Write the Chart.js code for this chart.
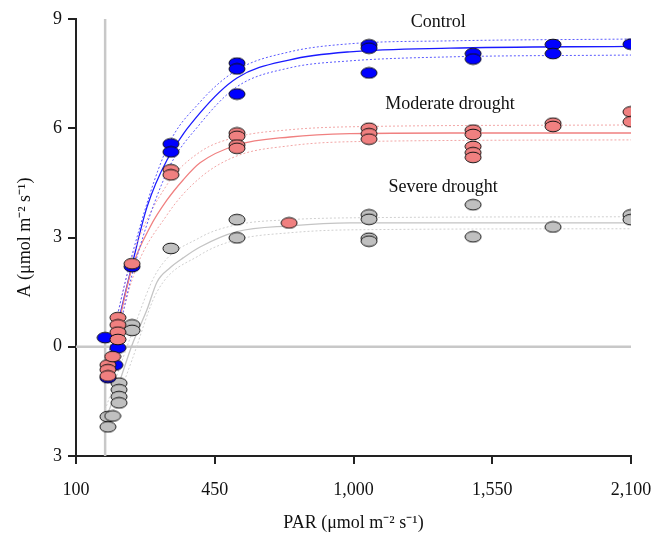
<!DOCTYPE html>
<html>
<head>
<meta charset="utf-8">
<script src="https://cdn.jsdelivr.net/npm/chart.js@4"></script>
<style>
  html, body { margin: 0; padding: 0; background: #fff; }
  #wrap { width: 653px; height: 534px; }
</style>
</head>
<body>
<div id="wrap"><canvas id="chart" width="653" height="534"></canvas></div>
<script>
// PAR axis: linear positions, labels as printed on the figure
const xTickLabels = ['100', '450', '1,000', '1,550', '2,100'];
const yTickLabels = ['3', '0', '3', '6', '9'];

// measured points
const controlX = [205, 215, 240, 251, 302, 442, 442, 680, 680, 680, 1156, 1156, 1156, 1531, 1531, 1819, 1819, 2100];
const controlY = [0.25, -0.85, -0.5, -0.03, 2.2, 5.57, 5.35, 7.79, 7.63, 6.94, 8.29, 8.2, 7.52, 8.05, 7.9, 8.3, 8.05, 8.31];

const moderateX = [215, 215, 215, 232, 251, 251, 251, 251, 302, 442, 442, 680, 680, 680, 680, 868, 1156, 1156, 1156, 1531, 1531, 1531, 1531, 1531, 1819, 1819, 2100, 2100];
const moderateY = [-0.5, -0.63, -0.8, -0.27, 0.8, 0.6, 0.4, 0.2, 2.28, 4.86, 4.72, 5.87, 5.78, 5.54, 5.45, 3.4, 6.0, 5.85, 5.7, 5.95, 5.83, 5.5, 5.33, 5.2, 6.14, 6.05, 6.45, 6.18];

const severeX = [215, 215, 232, 255, 255, 255, 255, 302, 302, 442, 680, 680, 1156, 1156, 1156, 1156, 1531, 1531, 1819, 2100, 2100];
const severeY = [-1.92, -2.2, -1.9, -1.0, -1.18, -1.37, -1.54, 0.6, 0.45, 2.7, 3.49, 2.99, 3.62, 3.5, 2.98, 2.9, 3.9, 3.02, 3.29, 3.62, 3.49];

// fitted curves and their bands
const controlFitX = [205, 230, 302, 356, 428, 547, 680, 871, 1087, 1448, 2100];
const controlFitY = [-0.82, -0.03, 2.25, 3.84, 5.13, 6.42, 7.38, 7.88, 8.1, 8.2, 8.25];
const controlUpX = [205, 302, 428, 547, 680, 871, 1087, 1448, 2100];
const controlUpY = [-0.63, 2.52, 5.46, 6.72, 7.6, 8.1, 8.32, 8.4, 8.45];
const controlLoX = [215, 302, 428, 547, 680, 871, 1087, 1448, 2100];
const controlLoY = [-1.0, 1.98, 4.8, 6.12, 7.14, 7.66, 7.85, 7.96, 8.01];

const moderateFitX = [205, 251, 302, 367, 428, 486, 547, 680, 871, 1087, 1448, 2100];
const moderateFitY = [-0.85, 0.55, 2.17, 3.29, 4.03, 4.58, 5.05, 5.54, 5.76, 5.85, 5.87, 5.87];
const moderateUpX = [205, 302, 428, 547, 680, 871, 1087, 2100];
const moderateUpY = [-0.63, 2.44, 4.45, 5.35, 5.76, 5.96, 6.04, 6.09];
const moderateLoX = [215, 302, 428, 547, 680, 871, 1087, 2100];
const moderateLoY = [-1.0, 1.84, 3.62, 4.64, 5.24, 5.52, 5.63, 5.68];

const severeFitX = [205, 223, 259, 302, 356, 392, 439, 486, 547, 680, 871, 1087, 2100];
const severeFitY = [-2.0, -1.67, -0.91, 0.05, 1.02, 1.78, 2.17, 2.44, 2.74, 3.16, 3.32, 3.4, 3.4];
const severeUpX = [205, 302, 392, 547, 680, 871, 1087, 2100];
const severeUpY = [-1.73, 0.38, 2.06, 3.0, 3.35, 3.49, 3.54, 3.57];
const severeLoX = [230, 302, 392, 547, 680, 871, 1087, 2100];
const severeLoY = [-1.87, -0.36, 1.51, 2.52, 2.94, 3.13, 3.21, 3.24];

// group labels inside the plot
const groupNames = ['Control', 'Moderate drought', 'Severe drought'];
const groupLabelX = [1405, 1448, 1423];
const groupLabelY = [8.92, 6.67, 4.39];

const refLineX = 205;
const refLineY = 0;

const serif = '"Liberation Serif", "Times New Roman", serif';

function pts(xs, ys) {
    return xs.map((x, i) => ({ x: x, y: ys[i] }));
}

// little elliptic marker with a black rim
function makeEllipse(fill) {
    const c = document.createElement('canvas');
    c.width = 18; c.height = 13;
    const g = c.getContext('2d');
    g.beginPath();
    g.ellipse(9, 6.5, 8, 5.3, 0, 0, Math.PI * 2);
    g.fillStyle = fill;
    g.fill();
    g.lineWidth = 1;
    g.strokeStyle = '#111';
    g.stroke();
    return c;
}

function curve(xs, ys, color, dashed) {
    return {
        type: 'line',
        data: pts(xs, ys),
        borderColor: color,
        borderWidth: dashed ? 1 : 1.3,
        borderDash: dashed ? [2, 2] : [],
        pointRadius: 0,
        fill: false,
        cubicInterpolationMode: 'monotone',
        order: 10
    };
}

function dots(xs, ys, fill, order) {
    return {
        type: 'scatter',
        data: pts(xs, ys),
        pointStyle: makeEllipse(fill),
        pointRadius: 8,
        order: order
    };
}

// grey reference lines at PAR origin and A = 0
const refLines = {
    id: 'refLines',
    beforeDatasetsDraw(chart) {
        const { ctx, chartArea, scales } = chart;
        const px = scales.x.getPixelForValue(refLineX);
        const py = scales.y.getPixelForValue(refLineY);
        ctx.save();
        ctx.strokeStyle = '#c8c8c8';
        ctx.lineWidth = 2.5;
        ctx.beginPath();
        ctx.moveTo(px, chartArea.top);
        ctx.lineTo(px, chartArea.bottom);
        ctx.moveTo(chartArea.left, py);
        ctx.lineTo(chartArea.right, py);
        ctx.stroke();
        ctx.restore();
    }
};

const groupText = {
    id: 'groupText',
    afterDatasetsDraw(chart) {
        const { ctx, scales } = chart;
        ctx.save();
        ctx.font = '18px ' + serif;
        ctx.fillStyle = '#111';
        ctx.textAlign = 'center';
        ctx.textBaseline = 'middle';
        groupNames.forEach((name, i) => {
            ctx.fillText(name, scales.x.getPixelForValue(groupLabelX[i]), scales.y.getPixelForValue(groupLabelY[i]));
        });
        ctx.restore();
    }
};

new Chart(document.getElementById('chart'), {
    data: {
        datasets: [
            curve(controlUpX, controlUpY, '#5a5aff', true),
            curve(controlLoX, controlLoY, '#5a5aff', true),
            curve(moderateUpX, moderateUpY, '#f2a6a6', true),
            curve(moderateLoX, moderateLoY, '#f2a6a6', true),
            curve(severeUpX, severeUpY, '#d0d0d0', true),
            curve(severeLoX, severeLoY, '#d0d0d0', true),
            curve(severeFitX, severeFitY, '#c4c4c4', false),
            curve(moderateFitX, moderateFitY, '#f08080', false),
            curve(controlFitX, controlFitY, '#1a1aff', false),
            dots(severeX, severeY, '#c0c0c0', 3),
            dots(controlX, controlY, '#0000ff', 2),
            dots(moderateX, moderateY, '#f08080', 1)
        ]
    },
    options: {
        responsive: false,
        animation: false,
        layout: { padding: { top: 19, right: 22, left: 14, bottom: 0 } },
        plugins: {
            legend: { display: false },
            tooltip: { enabled: false }
        },
        scales: {
            x: {
                type: 'linear',
                min: 100,
                max: 2100,
                afterFit: (s) => {
                    s.height = 78;
                    s.paddingLeft = 0;
                    s.paddingRight = 0;
                },
                afterBuildTicks: (s) => {
                    s.ticks = [100, 600, 1100, 1600, 2100].map(v => ({ value: v }));
                },
                ticks: {
                    color: '#111',
                    font: { family: serif, size: 18 },
                    padding: 15,
                    maxRotation: 0,
                    callback: (v, i) => xTickLabels[i]
                },
                grid: { drawOnChartArea: false, drawTicks: true, tickLength: 8, color: '#222', lineWidth: 2 },
                border: { display: true, color: '#222', width: 2 },
                title: {
                    display: true,
                    text: 'PAR (μmol m⁻² s⁻¹)',
                    color: '#111',
                    font: { family: serif, size: 18 },
                    padding: { top: 4, bottom: 0 }
                }
            },
            y: {
                type: 'linear',
                min: -3,
                max: 9,
                afterFit: (s) => {
                    s.width = 62;
                    s.paddingTop = 0;
                    s.paddingBottom = 0;
                },
                afterBuildTicks: (s) => {
                    s.ticks = [-3, 0, 3, 6, 9].map(v => ({ value: v }));
                },
                ticks: {
                    color: '#111',
                    font: { family: serif, size: 18 },
                    padding: 6,
                    callback: (v, i) => yTickLabels[i]
                },
                grid: { drawOnChartArea: false, drawTicks: true, tickLength: 8, color: '#222', lineWidth: 2 },
                border: { display: true, color: '#222', width: 2 },
                title: {
                    display: true,
                    text: 'A (μmol m⁻² s⁻¹)',
                    color: '#111',
                    font: { family: serif, size: 18 },
                    padding: { top: 0, bottom: 4 }
                }
            }
        }
    },
    plugins: [refLines, groupText]
});
</script>
</body>
</html>
